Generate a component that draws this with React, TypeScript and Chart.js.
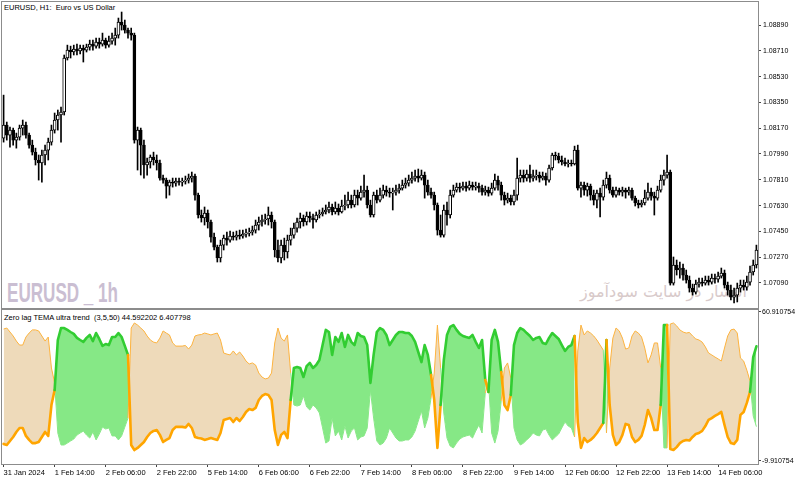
import { useEffect, useRef } from 'react';
import { Chart, registerables } from 'chart.js';

Chart.register(...registerables);

// ---------- DATA ----------
const timeLabels = [
  '31 Jan 2024', '1 Feb 14:00', '2 Feb 06:00', '2 Feb 22:00', '5 Feb 14:00',
  '6 Feb 06:00', '6 Feb 22:00', '7 Feb 14:00', '8 Feb 06:00', '8 Feb 22:00',
  '9 Feb 14:00', '12 Feb 06:00', '12 Feb 22:00', '13 Feb 14:00', '14 Feb 06:00',
];
const labelStep = 16; // H1 bars between time labels

const opens = [
  1.08101, 1.08192, 1.08122, 1.08157, 1.08087, 1.08108, 1.08171, 1.08192, 1.08122, 1.08052,
  1.08003, 1.07948, 1.07927, 1.07983, 1.08017, 1.08073, 1.08157, 1.08227, 1.08262, 1.08283,
  1.08660, 1.08715, 1.08702, 1.08722, 1.08709, 1.08729, 1.08715, 1.08736, 1.08757, 1.08743,
  1.08771, 1.08757, 1.08785, 1.08750, 1.08778, 1.08799, 1.08820, 1.08911, 1.08890, 1.08855,
  1.08834, 1.08820, 1.08087, 1.08157, 1.08052, 1.07913, 1.07934, 1.07969, 1.07948, 1.07927,
  1.07822, 1.07808, 1.07766, 1.07794, 1.07787, 1.07801, 1.07794, 1.07801, 1.07808, 1.07822,
  1.07836, 1.07703, 1.07564, 1.07543, 1.07578, 1.07515, 1.07410, 1.07340, 1.07264, 1.07354,
  1.07403, 1.07389, 1.07417, 1.07410, 1.07424, 1.07417, 1.07431, 1.07438, 1.07445, 1.07459,
  1.07494, 1.07515, 1.07529, 1.07536, 1.07564, 1.07515, 1.07320, 1.07264, 1.07354, 1.07306,
  1.07389, 1.07424, 1.07473, 1.07515, 1.07543, 1.07515, 1.07557, 1.07543, 1.07529, 1.07564,
  1.07571, 1.07585, 1.07599, 1.07620, 1.07585, 1.07613, 1.07585, 1.07627, 1.07634, 1.07668,
  1.07634, 1.07703, 1.07682, 1.07724, 1.07738, 1.07634, 1.07564, 1.07703, 1.07668, 1.07703,
  1.07738, 1.07724, 1.07717, 1.07724, 1.07738, 1.07752, 1.07773, 1.07787, 1.07808, 1.07822,
  1.07836, 1.07822, 1.07843, 1.07773, 1.07724, 1.07703, 1.07634, 1.07459, 1.07424, 1.07599,
  1.07564, 1.07703, 1.07738, 1.07759, 1.07752, 1.07766, 1.07752, 1.07773, 1.07759, 1.07766,
  1.07752, 1.07724, 1.07738, 1.07717, 1.07752, 1.07808, 1.07773, 1.07703, 1.07668, 1.07682,
  1.07655, 1.07703, 1.07822, 1.07843, 1.07822, 1.07850, 1.07822, 1.07836, 1.07843, 1.07822,
  1.07836, 1.07808, 1.07892, 1.07983, 1.07976, 1.07948, 1.07934, 1.07920, 1.07927, 1.07920,
  1.08017, 1.07752, 1.07773, 1.07738, 1.07766, 1.07703, 1.07668, 1.07717, 1.07689, 1.07773,
  1.07822, 1.07738, 1.07703, 1.07738, 1.07724, 1.07738, 1.07724, 1.07738, 1.07682, 1.07648,
  1.07634, 1.07648, 1.07682, 1.07724, 1.07696, 1.07682, 1.07738, 1.07808, 1.07843, 1.07864,
  1.07089, 1.07215, 1.07180, 1.07194, 1.07145, 1.07110, 1.07054, 1.07026, 1.07082, 1.07096,
  1.07089, 1.07110, 1.07096, 1.07124, 1.07117, 1.07138, 1.07159, 1.07075, 1.07040, 1.06991,
  1.07005, 1.07054, 1.07075, 1.07061, 1.07096, 1.07166, 1.07215,
];

const highs = [
  1.08401, 1.08213, 1.08178, 1.08171, 1.08136, 1.08192, 1.08227, 1.08213, 1.08136, 1.08087,
  1.08031, 1.07983, 1.08017, 1.08052, 1.08101, 1.08192, 1.08276, 1.08297, 1.08318, 1.08681,
  1.08750, 1.08743, 1.08750, 1.08757, 1.08750, 1.08750, 1.08757, 1.08785, 1.08785, 1.08799,
  1.08799, 1.08834, 1.08799, 1.08813, 1.08834, 1.08869, 1.08939, 1.08981, 1.08925, 1.08869,
  1.08869, 1.08834, 1.08178, 1.08171, 1.08087, 1.07962, 1.07983, 1.08003, 1.07983, 1.07948,
  1.07843, 1.07822, 1.07808, 1.07822, 1.07822, 1.07822, 1.07822, 1.07836, 1.07850, 1.07864,
  1.07850, 1.07717, 1.07599, 1.07620, 1.07599, 1.07529, 1.07438, 1.07354, 1.07389, 1.07424,
  1.07445, 1.07452, 1.07445, 1.07452, 1.07459, 1.07459, 1.07466, 1.07473, 1.07487, 1.07529,
  1.07550, 1.07564, 1.07571, 1.07620, 1.07585, 1.07529, 1.07389, 1.07389, 1.07403, 1.07424,
  1.07473, 1.07508, 1.07543, 1.07578, 1.07564, 1.07585, 1.07585, 1.07571, 1.07585, 1.07599,
  1.07613, 1.07634, 1.07655, 1.07641, 1.07655, 1.07641, 1.07668, 1.07703, 1.07724, 1.07703,
  1.07738, 1.07738, 1.07766, 1.07843, 1.07766, 1.07668, 1.07724, 1.07738, 1.07752, 1.07773,
  1.07766, 1.07752, 1.07752, 1.07773, 1.07780, 1.07808, 1.07822, 1.07843, 1.07864, 1.07878,
  1.07885, 1.07878, 1.07864, 1.07808, 1.07752, 1.07724, 1.07648, 1.07564, 1.07634, 1.07655,
  1.07738, 1.07773, 1.07787, 1.07787, 1.07794, 1.07794, 1.07801, 1.07794, 1.07794, 1.07787,
  1.07773, 1.07766, 1.07759, 1.07787, 1.07850, 1.07836, 1.07794, 1.07724, 1.07717, 1.07703,
  1.07738, 1.07962, 1.07878, 1.07878, 1.07878, 1.07913, 1.07878, 1.07878, 1.07864, 1.07864,
  1.07857, 1.07913, 1.07996, 1.08003, 1.07996, 1.07976, 1.07962, 1.07948, 1.07948, 1.08045,
  1.08052, 1.07794, 1.07794, 1.07787, 1.07780, 1.07738, 1.07738, 1.07752, 1.07808, 1.07864,
  1.07843, 1.07759, 1.07759, 1.07752, 1.07759, 1.07752, 1.07759, 1.07752, 1.07696, 1.07668,
  1.07668, 1.07738, 1.07787, 1.07752, 1.07724, 1.07766, 1.07843, 1.07878, 1.07983, 1.07878,
  1.07271, 1.07250, 1.07236, 1.07222, 1.07180, 1.07138, 1.07082, 1.07110, 1.07124, 1.07124,
  1.07138, 1.07138, 1.07152, 1.07152, 1.07166, 1.07194, 1.07180, 1.07096, 1.07075, 1.07054,
  1.07089, 1.07110, 1.07110, 1.07138, 1.07208, 1.07250, 1.07354,
];

const lows = [
  1.08073, 1.08087, 1.08038, 1.08052, 1.08031, 1.08087, 1.08122, 1.08101, 1.08031, 1.07983,
  1.07913, 1.07808, 1.07794, 1.07913, 1.07948, 1.08052, 1.08136, 1.08157, 1.08073, 1.08262,
  1.08646, 1.08660, 1.08681, 1.08681, 1.08688, 1.08632, 1.08702, 1.08715, 1.08715, 1.08729,
  1.08729, 1.08743, 1.08729, 1.08736, 1.08757, 1.08750, 1.08799, 1.08855, 1.08834, 1.08799,
  1.08785, 1.08066, 1.07878, 1.07843, 1.07822, 1.07843, 1.07892, 1.07913, 1.07878, 1.07808,
  1.07787, 1.07682, 1.07703, 1.07759, 1.07766, 1.07773, 1.07766, 1.07780, 1.07787, 1.07794,
  1.07668, 1.07543, 1.07515, 1.07494, 1.07473, 1.07375, 1.07320, 1.07236, 1.07236, 1.07320,
  1.07354, 1.07375, 1.07389, 1.07389, 1.07396, 1.07403, 1.07410, 1.07417, 1.07424, 1.07438,
  1.07459, 1.07487, 1.07501, 1.07494, 1.07473, 1.07271, 1.07236, 1.07229, 1.07250, 1.07264,
  1.07354, 1.07403, 1.07445, 1.07473, 1.07487, 1.07494, 1.07515, 1.07473, 1.07515, 1.07543,
  1.07557, 1.07571, 1.07578, 1.07564, 1.07571, 1.07564, 1.07578, 1.07599, 1.07613, 1.07613,
  1.07620, 1.07634, 1.07668, 1.07689, 1.07613, 1.07550, 1.07550, 1.07648, 1.07655, 1.07682,
  1.07696, 1.07689, 1.07599, 1.07703, 1.07717, 1.07738, 1.07752, 1.07766, 1.07787, 1.07801,
  1.07794, 1.07808, 1.07682, 1.07703, 1.07682, 1.07599, 1.07424, 1.07410, 1.07410, 1.07494,
  1.07543, 1.07689, 1.07724, 1.07724, 1.07738, 1.07731, 1.07738, 1.07738, 1.07738, 1.07724,
  1.07703, 1.07703, 1.07696, 1.07703, 1.07738, 1.07738, 1.07668, 1.07634, 1.07648, 1.07634,
  1.07634, 1.07668, 1.07794, 1.07794, 1.07801, 1.07794, 1.07801, 1.07808, 1.07794, 1.07808,
  1.07773, 1.07794, 1.07878, 1.07948, 1.07927, 1.07913, 1.07906, 1.07899, 1.07906, 1.07913,
  1.07738, 1.07689, 1.07703, 1.07696, 1.07668, 1.07634, 1.07613, 1.07550, 1.07668, 1.07752,
  1.07717, 1.07689, 1.07689, 1.07703, 1.07696, 1.07682, 1.07703, 1.07668, 1.07627, 1.07613,
  1.07620, 1.07634, 1.07668, 1.07668, 1.07564, 1.07668, 1.07724, 1.07773, 1.07822, 1.07075,
  1.07075, 1.07145, 1.07124, 1.07110, 1.07089, 1.07026, 1.07005, 1.07012, 1.07061, 1.07068,
  1.07075, 1.07075, 1.07082, 1.07089, 1.07096, 1.07124, 1.07054, 1.07005, 1.06971, 1.06950,
  1.06957, 1.07026, 1.07040, 1.07040, 1.07075, 1.07145, 1.07194,
];

const closes = [
  1.08192, 1.08122, 1.08157, 1.08087, 1.08108, 1.08171, 1.08192, 1.08122, 1.08052, 1.08003,
  1.07948, 1.07927, 1.07983, 1.08017, 1.08073, 1.08157, 1.08227, 1.08262, 1.08283, 1.08660,
  1.08715, 1.08702, 1.08722, 1.08709, 1.08729, 1.08715, 1.08736, 1.08757, 1.08743, 1.08771,
  1.08757, 1.08785, 1.08750, 1.08778, 1.08799, 1.08820, 1.08911, 1.08890, 1.08855, 1.08834,
  1.08820, 1.08087, 1.08157, 1.08052, 1.07913, 1.07934, 1.07969, 1.07948, 1.07927, 1.07822,
  1.07808, 1.07766, 1.07794, 1.07787, 1.07801, 1.07794, 1.07801, 1.07808, 1.07822, 1.07836,
  1.07703, 1.07564, 1.07543, 1.07578, 1.07515, 1.07410, 1.07340, 1.07264, 1.07354, 1.07403,
  1.07389, 1.07417, 1.07410, 1.07424, 1.07417, 1.07431, 1.07438, 1.07445, 1.07459, 1.07494,
  1.07515, 1.07529, 1.07536, 1.07564, 1.07515, 1.07320, 1.07264, 1.07354, 1.07306, 1.07389,
  1.07424, 1.07473, 1.07515, 1.07543, 1.07515, 1.07557, 1.07543, 1.07529, 1.07564, 1.07571,
  1.07585, 1.07599, 1.07620, 1.07585, 1.07613, 1.07585, 1.07627, 1.07634, 1.07668, 1.07634,
  1.07703, 1.07682, 1.07724, 1.07738, 1.07634, 1.07564, 1.07703, 1.07668, 1.07703, 1.07738,
  1.07724, 1.07717, 1.07724, 1.07738, 1.07752, 1.07773, 1.07787, 1.07808, 1.07822, 1.07836,
  1.07822, 1.07843, 1.07773, 1.07724, 1.07703, 1.07634, 1.07459, 1.07424, 1.07599, 1.07564,
  1.07703, 1.07738, 1.07759, 1.07752, 1.07766, 1.07752, 1.07773, 1.07759, 1.07766, 1.07752,
  1.07724, 1.07738, 1.07717, 1.07752, 1.07808, 1.07773, 1.07703, 1.07668, 1.07682, 1.07655,
  1.07703, 1.07822, 1.07843, 1.07822, 1.07850, 1.07822, 1.07836, 1.07843, 1.07822, 1.07836,
  1.07808, 1.07892, 1.07983, 1.07976, 1.07948, 1.07934, 1.07920, 1.07927, 1.07920, 1.08017,
  1.07752, 1.07773, 1.07738, 1.07766, 1.07703, 1.07668, 1.07717, 1.07689, 1.07773, 1.07822,
  1.07738, 1.07703, 1.07738, 1.07724, 1.07738, 1.07724, 1.07738, 1.07682, 1.07648, 1.07634,
  1.07648, 1.07682, 1.07724, 1.07696, 1.07682, 1.07738, 1.07808, 1.07843, 1.07864, 1.07089,
  1.07215, 1.07180, 1.07194, 1.07145, 1.07110, 1.07054, 1.07026, 1.07082, 1.07096, 1.07089,
  1.07110, 1.07096, 1.07124, 1.07117, 1.07138, 1.07159, 1.07075, 1.07040, 1.06991, 1.07005,
  1.07054, 1.07075, 1.07061, 1.07096, 1.07166, 1.07215, 1.07320,
];

// Zero lag TEMA ultra trend: main (thick) line and its companion (thin) line
const temaLine = [
  -1.8, -2.3, -0.4, 1.5, 3.9, 5.8, 5.8, 2.0, 0.1, -1.4,
  -1.4, -0.9, 1.5, 3.9, 2.0, 16.7, 23.8, 47.6, 53.3, 53.3,
  52.4, 51.4, 50.5, 48.6, 47.6, 46.7, 48.6, 50.0, 47.1, 50.9,
  48.1, 44.8, 45.7, 45.2, 49.0, 49.0, 50.9, 49.0, 44.8, 40.5,
  -2.3, -4.7, -3.7, -2.3, -0.9, 1.5, 3.4, 4.4, 4.8, 2.5,
  -0.9, 0.1, 1.0, 4.8, 6.3, 6.3, 6.3, 6.0, 7.7, 5.8,
  1.5, 1.0, 0.8, 0.1, 0.5, 1.0, 0.5, 0.1, 3.4, 9.6,
  10.1, 10.5, 8.6, 10.5, 9.1, 11.0, 13.4, 14.8, 14.3, 15.3,
  19.1, 21.0, 21.9, 21.5, 19.1, 4.8, -2.3, 2.5, 3.9, 1.0,
  19.1, 34.3, 34.8, 34.3, 30.0, 35.2, 36.7, 34.3, 35.7, 38.1,
  45.2, 52.4, 51.4, 40.5, 49.0, 46.7, 50.9, 44.3, 50.0, 46.7,
  45.2, 50.9, 49.5, 49.0, 45.2, 27.2, 40.5, 51.4, 53.3, 52.4,
  50.0, 45.2, 47.6, 50.0, 51.4, 51.4, 50.9, 50.9, 49.5, 46.7,
  41.9, 37.1, 45.2, 40.5, 31.0, 19.1, -3.7, 16.7, 38.1, 50.0,
  53.8, 54.7, 52.4, 50.5, 49.5, 49.0, 48.6, 50.0, 46.7, 43.8,
  47.6, 28.6, 22.9, 47.6, 52.4, 46.7, 32.4, 16.7, 14.3, 21.5,
  45.2, 50.9, 53.3, 52.4, 50.9, 49.5, 47.6, 48.6, 49.0, 46.2,
  45.7, 48.6, 50.9, 49.5, 48.1, 45.2, 42.4, 44.3, 45.2, 49.5,
  8.6, -3.7, 1.0, -0.9, 0.1, 1.5, 3.4, 5.8, 8.2, 47.6,
  16.7, 2.5, -2.3, -0.9, 2.5, 7.7, 7.2, 1.5, -0.9, 0.1,
  2.0, 7.2, 14.3, 10.5, 4.8, 4.8, 16.7, 54.7, 54.7, -4.2,
  -4.7, -3.3, -1.4, -0.4, 0.1, -0.2, 1.5, 2.9, 3.4, 4.4,
  6.7, 9.6, 10.5, 11.5, 12.4, 13.4, 7.2, 1.5, -1.4, -1.8,
  0.1, 12.0, 13.4, 17.7, 22.9, 39.5, 44.592202,
];

const mirrorLine = [
  52.8, 53.3, 51.4, 49.5, 47.1, 45.2, 45.2, 49.0, 50.9, 52.4,
  52.4, 51.9, 49.5, 47.1, 49.0, 34.3, 27.2, 3.4, -2.3, -2.3,
  -1.4, -0.4, 0.5, 2.4, 3.4, 4.3, 2.4, 1.0, 3.9, 0.1,
  2.9, 6.2, 5.3, 5.8, 2.0, 2.0, 0.1, 2.0, 6.2, 10.5,
  53.3, 55.7, 54.7, 53.3, 51.9, 49.5, 47.6, 46.6, 46.2, 48.5,
  51.9, 50.9, 50.0, 46.2, 44.7, 44.7, 44.7, 45.0, 43.3, 45.2,
  49.5, 50.0, 50.2, 50.9, 50.5, 50.0, 50.5, 50.9, 47.6, 41.4,
  40.9, 40.5, 42.4, 40.5, 41.9, 40.0, 37.6, 36.2, 36.7, 35.7,
  31.9, 30.0, 29.1, 29.5, 31.9, 46.2, 53.3, 48.5, 47.1, 50.0,
  31.9, 16.7, 16.2, 16.7, 21.0, 15.8, 14.3, 16.7, 15.3, 12.9,
  5.8, -1.4, -0.4, 10.5, 2.0, 4.3, 0.1, 6.7, 1.0, 4.3,
  5.8, 0.1, 1.5, 2.0, 5.8, 23.8, 10.5, -0.4, -2.3, -1.4,
  1.0, 5.8, 3.4, 1.0, -0.4, -0.4, 0.1, 0.1, 1.5, 4.3,
  9.1, 13.9, 5.8, 10.5, 20.0, 31.9, 54.7, 34.3, 12.9, 1.0,
  -2.8, -3.7, -1.4, 0.5, 1.5, 2.0, 2.4, 1.0, 4.3, 7.2,
  3.4, 22.4, 28.1, 3.4, -1.4, 4.3, 18.6, 34.3, 36.7, 29.5,
  5.8, 0.1, -2.3, -1.4, 0.1, 1.5, 3.4, 2.4, 2.0, 4.8,
  5.3, 2.4, 0.1, 1.5, 2.9, 5.8, 8.6, 6.7, 5.8, 1.5,
  42.4, 54.7, 50.0, 51.9, 50.9, 49.5, 47.6, 45.2, 42.8, 3.4,
  34.3, 48.5, 53.3, 51.9, 48.5, 43.3, 43.8, 49.5, 51.9, 50.9,
  49.0, 43.8, 36.7, 40.5, 46.2, 46.2, 34.3, -3.7, -3.7, 55.2,
  55.7, 54.3, 52.4, 51.4, 50.9, 51.2, 49.5, 48.1, 47.6, 46.6,
  44.3, 41.4, 40.5, 39.5, 38.6, 37.6, 43.8, 49.5, 52.4, 52.8,
  50.9, 39.0, 37.6, 33.3, 28.1, 11.5, 6.407798,
];

const priceTicks = [1.0709, 1.0727, 1.0745, 1.0763, 1.0781, 1.0799, 1.0817, 1.0835, 1.0853, 1.0871, 1.0889];
const priceMin = 1.06915;
const priceMax = 1.09051;
const indTicks = [-9.910754, 60.910754];
const indMin = -11.34;
const indMax = 61.86;

// ---------- STYLE ----------
const FONT = '"Liberation Sans", Arial, sans-serif';
const FRAME = '#8c8c8c';
const GREEN = '#32CD32';
const GREEN_FILL = 'rgb(134,232,134)';
const ORANGE = '#FFA500';
const ORANGE_THIN = '#FFB23F';
const BEIGE = 'rgb(238,218,186)';
const AXIS_W = 42;

const categories = closes.map((_, i) => (i % labelStep === 0 ? timeLabels[i / labelStep] : ''));

const framePlugin = {
  id: 'frame',
  afterDraw(chart: any) {
    const { ctx, chartArea } = chart;
    ctx.save();
    ctx.strokeStyle = FRAME;
    ctx.lineWidth = 1;
    ctx.strokeRect(
      Math.round(chartArea.left) - 0.5,
      Math.round(chartArea.top) - 0.5,
      Math.round(chartArea.right - chartArea.left) + 1,
      Math.round(chartArea.bottom - chartArea.top) + 1,
    );
    ctx.restore();
  },
};

const fitY = (s: any) => {
  s.width = AXIS_W;
  s.paddingTop = 0;
  s.paddingBottom = 0;
};

export default function App() {
  const mainRef = useRef<HTMLCanvasElement | null>(null);
  const indRef = useRef<HTMLCanvasElement | null>(null);

  useEffect(() => {
    if (!mainRef.current || !indRef.current) return;

    const main = new Chart(mainRef.current, {
      type: 'bar',
      data: {
        labels: categories,
        datasets: [
          {
            data: lows.map((l, i) => [l, highs[i]]) as any,
            backgroundColor: '#000',
            barThickness: 1,
            grouped: false,
            order: 2,
          } as any,
          {
            data: opens.map((o, i) => [o, closes[i]]) as any,
            backgroundColor: closes.map((c, i) => (c >= opens[i] ? '#ffffff' : '#000000')),
            borderColor: '#000',
            borderWidth: 1,
            borderSkipped: false,
            barThickness: 3,
            minBarLength: 1,
            grouped: false,
            order: 1,
          } as any,
        ],
      },
      options: {
        responsive: false,
        animation: false,
        layout: { padding: { left: 2, top: 2, right: 0, bottom: 1 } },
        plugins: { legend: { display: false }, tooltip: { enabled: false } },
        scales: {
          x: { display: false, offset: true, grid: { display: false } },
          y: {
            position: 'right',
            min: priceMin,
            max: priceMax,
            afterBuildTicks: (s: any) => {
              s.ticks = priceTicks.map((v) => ({ value: v }));
            },
            afterFit: fitY,
            ticks: {
              callback: (v: any) => Number(v).toFixed(5),
              font: { family: FONT, size: 7 },
              color: '#000',
              padding: 2,
            },
            grid: { drawOnChartArea: false, tickLength: 3, color: '#444' },
            border: { display: true, color: FRAME },
          },
        },
      } as any,
      plugins: [framePlugin],
    });

    const isUp = (i: number) => temaLine[i] >= mirrorLine[i];

    const ind = new Chart(indRef.current, {
      type: 'line',
      data: {
        labels: categories,
        datasets: [
          {
            data: temaLine,
            borderColor: GREEN,
            borderWidth: 2.6,
            pointRadius: 0,
            tension: 0,
            borderJoinStyle: 'round',
            borderCapStyle: 'round',
            segment: {
              borderColor: (ctx: any) => (isUp(ctx.p1DataIndex) ? GREEN : ORANGE),
            },
            fill: { target: 1, above: GREEN_FILL, below: BEIGE },
            order: 0,
          } as any,
          {
            data: mirrorLine,
            borderColor: ORANGE_THIN,
            borderWidth: 1,
            pointRadius: 0,
            tension: 0,
            segment: {
              borderColor: (ctx: any) => (isUp(ctx.p1DataIndex) ? GREEN_FILL : ORANGE_THIN),
            },
            fill: false,
            order: 1,
          } as any,
        ],
      },
      options: {
        responsive: false,
        animation: false,
        layout: { padding: { left: 2, top: 1, right: 0, bottom: 0 } },
        plugins: {
          legend: { display: false },
          tooltip: { enabled: false },
          filler: { drawTime: 'beforeDatasetsDraw' },
        },
        scales: {
          x: {
            offset: true,
            afterFit: (s: any) => {
              s.height = 17;
              s.paddingLeft = 0;
              s.paddingRight = 0;
            },
            grid: {
              offset: false,
              drawOnChartArea: false,
              tickLength: 3,
              color: (c: any) => (c.index % labelStep === 0 ? '#444' : 'rgba(0,0,0,0)'),
            },
            border: { display: true, color: FRAME },
            ticks: {
              autoSkip: false,
              maxRotation: 0,
              minRotation: 0,
              align: 'start',
              padding: 1,
              font: { family: FONT, size: 7.5 },
              color: '#000',
              callback: (_v: any, i: number) => categories[i],
            },
          },
          y: {
            position: 'right',
            min: indMin,
            max: indMax,
            afterBuildTicks: (s: any) => {
              s.ticks = indTicks.map((v) => ({ value: v }));
            },
            afterFit: fitY,
            ticks: {
              callback: (v: any) => Number(v).toFixed(6),
              font: { family: FONT, size: 7 },
              color: '#000',
              padding: 1,
            },
            grid: { drawOnChartArea: false, tickLength: 3, color: '#444' },
            border: { display: true, color: FRAME },
          },
        },
      } as any,
      plugins: [framePlugin],
    });

    return () => {
      main.destroy();
      ind.destroy();
    };
  }, []);

  const abs: any = { position: 'absolute', whiteSpace: 'nowrap', lineHeight: 1, margin: 0 };

  return (
    <div style={{ position: 'absolute', left: 0, top: 0, width: 800, height: 481, background: '#fff', overflow: 'hidden' }}>
      <div style={{ ...abs, left: 4, top: 4, fontFamily: FONT, fontSize: 7.5, color: '#000' }}>
        EURUSD, H1:&nbsp; Euro vs US Dollar
      </div>
      <div
        style={{
          ...abs,
          left: 7,
          top: 279,
          fontFamily: FONT,
          fontWeight: 'bold',
          fontSize: 28,
          color: 'rgb(202,190,210)',
          transform: 'scaleX(0.61)',
          transformOrigin: 'left top',
        }}
      >
        EURUSD _ 1h
      </div>
      <div
        style={{
          ...abs,
          right: 53,
          top: 284,
          fontFamily: '"DejaVu Sans", sans-serif',
          fontSize: 16,
          color: 'rgb(216,202,202)',
          direction: 'rtl',
        }}
      >
        انتشار در سایت سودآموز
      </div>
      <div style={{ ...abs, left: 4, top: 314, fontFamily: FONT, fontSize: 7.5, color: '#000' }}>
        Zero lag TEMA ultra trend&nbsp; (3,5,50) 44.592202 6.407798
      </div>
      <canvas ref={mainRef} width={800} height={309} style={{ position: 'absolute', left: 0, top: 0, zIndex: 1 }} />
      <canvas ref={indRef} width={800} height={172} style={{ position: 'absolute', left: 0, top: 309, zIndex: 1 }} />
    </div>
  );
}
